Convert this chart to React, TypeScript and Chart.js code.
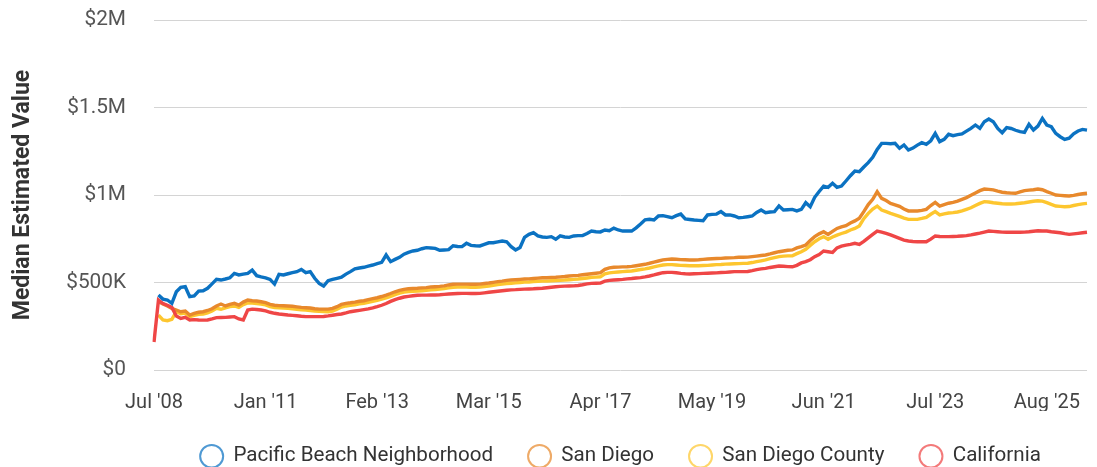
import React, { useEffect, useRef } from 'react';
import { Chart, registerables } from 'chart.js';

Chart.register(...registerables);

// ---- categories ----
const MONTHS = ['Jan', 'Feb', 'Mar', 'Apr', 'May', 'Jun', 'Jul', 'Aug', 'Sep', 'Oct', 'Nov', 'Dec'];
const FIRST_CATEGORY = "Jul '08";
const MONTHLY_START_YEAR = 2009; // monthly categories begin Jan '09
const MONTHLY_COUNT = 209;

const TICK_LABELS = ["Jul '08", "Jan '11", "Feb '13", "Mar '15", "Apr '17", "May '19", "Jun '21", "Jul '23", "Aug '25"];
const Y_TICKS = [0, 500, 1000, 1500, 2000]; // in $K

const SERIES_NAMES = ['Pacific Beach Neighborhood', 'San Diego', 'San Diego County', 'California'];
const SERIES_COLORS = ['#0b72c2', '#e8892c', '#fdc62f', '#ef4646'];
const LEGEND_COLORS = ['rgba(11,114,194,0.72)', 'rgba(232,137,44,0.72)', 'rgba(253,198,47,0.72)', 'rgba(239,70,70,0.72)'];

// ---- values ($K) ----
const PACIFIC_BEACH = [
  null, 428, 405, 400, 381, 447, 472, 476, 419, 423,
  451, 453, 467, 492, 518, 514, 520, 527, 552, 543,
  548, 552, 571, 539, 532, 527, 518, 491, 547, 543,
  550, 556, 562, 575, 556, 562, 524, 495, 480, 510,
  518, 524, 530, 548, 562, 578, 583, 587, 594, 600,
  608, 615, 657, 619, 632, 644, 662, 672, 680, 684,
  693, 699, 697, 695, 684, 686, 688, 710, 706, 705,
  724, 712, 710, 709, 718, 727, 727, 732, 737, 733,
  705, 686, 700, 758, 775, 785, 766, 760, 758, 762,
  747, 766, 760, 758, 766, 768, 768, 780, 794, 790,
  789, 800, 796, 811, 800, 794, 794, 794, 812, 834,
  858, 861, 857, 880, 882, 876, 870, 882, 891, 863,
  860, 857, 855, 853, 886, 889, 891, 905, 886, 886,
  880, 870, 872, 876, 880, 900, 914, 899, 903, 905,
  937, 914, 916, 918, 909, 918, 956, 933, 987, 1020,
  1051, 1044, 1067, 1044, 1051, 1080, 1110, 1137, 1133, 1160,
  1185, 1215, 1260, 1295, 1295, 1293, 1295, 1267, 1286, 1257,
  1268, 1285, 1299, 1290, 1310, 1352, 1305, 1318, 1347, 1339,
  1345, 1349, 1365, 1381, 1400, 1381, 1419, 1434, 1419, 1380,
  1356, 1385, 1380, 1370, 1362, 1358, 1404, 1371, 1394, 1438,
  1400, 1390, 1352, 1333, 1318, 1325, 1350, 1366, 1375, 1371,
];

const SAN_DIEGO = [
  null, 390, 378, 366, 352, 343, 333, 337, 314, 324,
  330, 333, 340, 350, 366, 377, 366, 375, 381, 371,
  388, 400, 396, 394, 390, 385, 375, 370, 368, 367,
  366, 364, 361, 358, 356, 354, 350, 348, 348, 348,
  352, 362, 375, 381, 384, 388, 393, 396, 402, 408,
  413, 420, 428, 437, 447, 455, 461, 464, 466, 467,
  469, 471, 474, 476, 478, 481, 486, 490, 491, 491,
  491, 490, 490, 491, 494, 497, 501, 505, 508, 512,
  514, 516, 518, 520, 521, 523, 525, 527, 527, 529,
  530, 532, 534, 537, 539, 541, 544, 547, 550, 553,
  556, 575, 584, 587, 588, 589, 590, 592, 596, 600,
  604, 610, 617, 623, 629, 632, 634, 633, 631, 630,
  629, 629, 630, 632, 634, 636, 637, 638, 640, 641,
  642, 644, 644, 645, 648, 651, 654, 657, 663, 670,
  676, 680, 684, 686, 698, 705, 714, 740, 762, 778,
  790, 775, 792, 809, 818, 825, 840, 852, 867, 905,
  945, 975, 1019, 981, 968, 952, 944, 935, 920, 909,
  909, 909, 912, 918, 940, 958, 937, 945, 953, 958,
  965, 975, 985, 998, 1012, 1025, 1034, 1032, 1029, 1022,
  1016, 1013, 1011, 1010, 1018, 1025, 1028, 1030, 1034, 1030,
  1019, 1010, 1000, 998, 996, 994, 998, 1003, 1007, 1010,
];

const SAN_DIEGO_COUNTY = [
  null, 314, 286, 282, 290, 333, 322, 325, 305, 312,
  318, 320, 326, 337, 352, 347, 355, 362, 366, 358,
  374, 384, 382, 380, 377, 372, 362, 357, 355, 354,
  352, 350, 347, 344, 342, 340, 337, 335, 334, 333,
  337, 348, 360, 366, 369, 373, 378, 381, 387, 393,
  398, 405, 412, 421, 431, 439, 445, 448, 450, 451,
  453, 455, 458, 460, 462, 465, 469, 473, 474, 474,
  474, 473, 473, 474, 477, 480, 484, 488, 491, 494,
  496, 498, 500, 502, 503, 505, 507, 508, 508, 510,
  511, 513, 514, 516, 518, 520, 523, 526, 529, 531,
  533, 549, 555, 558, 560, 562, 564, 566, 570, 574,
  578, 583, 589, 595, 600, 602, 602, 600, 598, 597,
  596, 596, 596, 597, 598, 600, 602, 603, 605, 606,
  607, 608, 609, 610, 614, 619, 624, 629, 636, 642,
  648, 651, 652, 653, 665, 676, 690, 712, 733, 750,
  762, 747, 760, 771, 780, 788, 800, 809, 823, 865,
  895, 920, 937, 914, 905, 895, 887, 878, 868, 861,
  861, 861, 866, 872, 890, 905, 886, 892, 897, 899,
  903, 909, 918, 927, 940, 952, 962, 960, 956, 953,
  950, 949, 949, 950, 953, 956, 960, 964, 967, 965,
  956, 946, 937, 935, 933, 934, 940, 945, 949, 952,
];

const CALIFORNIA = [
  160, 400, 380, 370, 358, 309, 295, 301, 286, 288,
  286, 285, 286, 292, 299, 300, 301, 303, 305, 292,
  286, 343, 348, 346, 343, 338, 330, 324, 320, 317,
  314, 312, 310, 307, 305, 305, 305, 305, 306, 309,
  313, 317, 320, 326, 333, 337, 341, 345, 349, 355,
  362, 370, 380, 392, 402, 410, 417, 421, 424, 427,
  428, 428, 429, 429, 430, 432, 434, 436, 437, 438,
  438, 437, 437, 438, 441, 444, 447, 450, 453, 456,
  458, 459, 461, 462, 463, 464, 466, 467, 470, 473,
  476, 478, 479, 480, 481, 483, 487, 492, 495, 496,
  497, 508, 512, 514, 516, 518, 521, 523, 526, 528,
  532, 537, 543, 550, 556, 558, 558, 556, 552, 550,
  549, 550, 551, 552, 553, 554, 555, 557, 558, 560,
  562, 562, 562, 563, 568, 574, 578, 581, 586, 590,
  594, 593, 591, 590, 598, 612, 619, 630, 648, 660,
  680, 676, 672, 698, 708, 714, 718, 724, 718, 735,
  755, 775, 794, 788, 781, 772, 762, 752, 742, 737,
  734, 733, 733, 733, 748, 766, 763, 762, 762, 763,
  764, 766, 768, 772, 777, 782, 788, 794, 792, 790,
  788, 787, 787, 787, 787, 788, 790, 793, 796, 794,
  794, 790, 787, 784, 779, 775, 778, 781, 784, 787,
];

const SERIES = [PACIFIC_BEACH, SAN_DIEGO, SAN_DIEGO_COUNTY, CALIFORNIA];
const DRAW_ORDER = [0, 2, 3, 1]; // lower draws on top

function buildCategories(): string[] {
  const out = [FIRST_CATEGORY];
  for (let k = 0; k < MONTHLY_COUNT; k++) {
    const m = k % 12;
    const y = (MONTHLY_START_YEAR + Math.floor(k / 12)) % 100;
    out.push(`${MONTHS[m]} '${String(y).padStart(2, '0')}`);
  }
  return out;
}

function formatMoney(v: number): string {
  if (v === 0) return '$0';
  if (v < 1000) return `$${v}K`;
  return `$${v / 1000}M`;
}

export default function App() {
  const canvasRef = useRef<HTMLCanvasElement | null>(null);

  useEffect(() => {
    if (!canvasRef.current) return;
    Chart.defaults.font.family = 'Roboto';
    const categories = buildCategories();

    const chart = new Chart(canvasRef.current, {
      type: 'line',
      data: {
        labels: categories,
        datasets: SERIES.map((values, i) => ({
          label: SERIES_NAMES[i],
          data: values,
          borderColor: SERIES_COLORS[i],
          backgroundColor: SERIES_COLORS[i],
          borderWidth: 3.4,
          pointRadius: 0,
          pointHoverRadius: 0,
          tension: 0,
          fill: false,
          order: DRAW_ORDER[i],
        })),
      },
      options: {
        animation: false,
        responsive: true,
        maintainAspectRatio: false,
        layout: { padding: { top: 0, right: 2, bottom: 0, left: 0 } },
        plugins: {
          tooltip: { enabled: false },
          legend: {
            position: 'bottom',
            fullSize: false,
            maxHeight: 56,
            labels: {
              usePointStyle: true,
              pointStyle: 'circle',
              pointStyleWidth: 23,
              boxHeight: 16,
              padding: 35,
              color: '#333',
              font: { size: 20.6, family: 'Roboto' },
              sort: (a: any, b: any) => a.datasetIndex - b.datasetIndex,
              generateLabels: (chart: any) => {
                const items = Chart.defaults.plugins.legend.labels.generateLabels(chart);
                return items.map((it: any) => ({
                  ...it,
                  fillStyle: 'rgba(255,255,255,0)',
                  strokeStyle: LEGEND_COLORS[it.datasetIndex],
                  lineWidth: 2,
                  pointStyle: 'circle',
                }));
              },
            },
          },
        },
        scales: {
          x: {
            type: 'category',
            grid: { display: false, drawTicks: false },
            border: { display: false },
            ticks: {
              autoSkip: false,
              maxRotation: 0,
              minRotation: 0,
              padding: 21,
              color: '#444',
              font: { size: 20 },
              callback: (_v: any, idx: number) =>
                TICK_LABELS.includes(categories[idx]) ? categories[idx] : null,
            },
            afterFit: (s: any) => {
              s.height = 41;
              s.paddingRight = 0;
              s.paddingLeft = 0;
            },
          },
          y: {
            min: Y_TICKS[0],
            max: Y_TICKS[Y_TICKS.length - 1],
            ticks: {
              stepSize: Y_TICKS[1] - Y_TICKS[0],
              padding: 28,
              color: '#555',
              font: { size: 20.8 },
              callback: (v: any) => formatMoney(Number(v)),
            },
            grid: { color: '#d4d4d4', drawTicks: false, lineWidth: 1 },
            border: { display: false },
            title: {
              display: true,
              text: 'Median Estimated Value',
              color: '#333',
              font: { size: 23, weight: 'bold' },
              padding: { top: 1, bottom: 0 },
            },
            afterFit: (s: any) => {
              s.width = 146;
              s.paddingTop = 12;
              s.paddingBottom = 12;
            },
          },
        },
      },
    } as any);

    return () => chart.destroy();
  }, []);

  return (
    <div style={{ position: 'relative', width: '100%', height: 459 }}>
      <canvas ref={canvasRef} />
    </div>
  );
}
